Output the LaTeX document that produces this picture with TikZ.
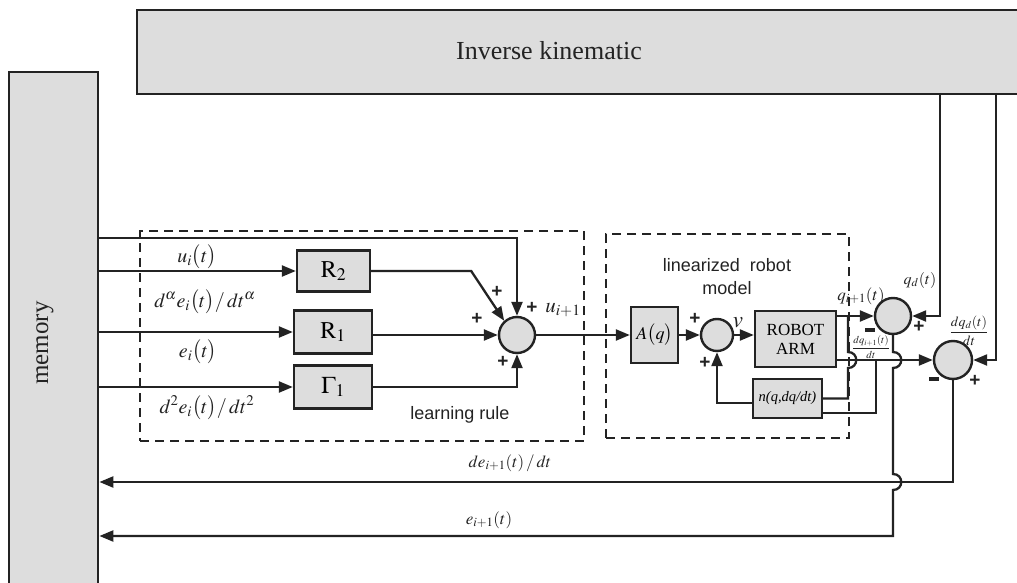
\documentclass[tikz,border=0pt]{standalone}
\usepackage{mathptmx}
\usepackage{fontspec}
\setmainfont{Liberation Serif}
\newfontfamily\arialf{Liberation Sans}
\usetikzlibrary{arrows.meta,calc}
\definecolor{boxgray}{RGB}{221,221,221}
\definecolor{ink}{RGB}{35,35,35}
\begin{document}
\begin{tikzpicture}[x=1pt,y=-1pt,
  line/.style={line width=2.3pt, draw=ink},
  arr/.style={line, -{Triangle[length=14pt,width=11pt]}},
  blk/.style={draw=ink, line width=2.4pt, fill=boxgray, inner sep=0pt},
  sumc/.style={circle, blk},
  dbox/.style={draw=ink, line width=2.2pt, dash pattern=on 9pt off 6pt, inner sep=0pt},
  sgn/.style={font=\arialf\bfseries\fontsize{19}{19}\selectfont, inner sep=0pt, text=ink},
  mns/.style={inner sep=0pt, fill=ink, minimum width=10pt, minimum height=3.5pt},
  lab/.style={inner sep=0pt, font=\fontsize{20}{22}\selectfont, text=ink},
  sans/.style={inner sep=0pt, font=\arialf\fontsize{18}{23}\selectfont, text=ink, align=center},
]
\useasboundingbox (0,0) rectangle (1017,583);
\fill[white] (0,0) rectangle (1017,583);

% big blocks
\node[blk, minimum width=900pt, minimum height=84pt, anchor=north west] (ik) at (136,9) {};
\node[inner sep=0pt, font=\fontsize{26}{26}\selectfont, text=ink] (ikt) at (549,51) {Inverse kinematic};
\node[blk, minimum width=89pt, minimum height=540pt, anchor=north west] (mem) at (8,71) {};
\node[inner sep=0pt, rotate=90, font=\fontsize{25}{25}\selectfont, text=ink] (memt) at (45,343) {memory};

% dashed groups
\node[dbox, minimum width=444pt, minimum height=210pt, anchor=north west] (lr) at (139,230) {};
\node[dbox, minimum width=243pt, minimum height=204pt, anchor=north west] (lrm) at (605,233) {};
\node[sans] (lrt) at (460,415) {learning rule};
\node[sans] (lrmt) at (727,277) {linearized\ \ robot\\model};

% learning rule blocks
\node[blk, minimum width=73pt, minimum height=41pt, font=\fontsize{24}{24}\selectfont] (R2) at (333.5,271) {$\mathrm{R}_2$};
\node[blk, minimum width=78pt, minimum height=43pt, font=\fontsize{24}{24}\selectfont] (R1) at (333,332) {$\mathrm{R}_1$};
\node[blk, minimum width=78pt, minimum height=43pt, font=\fontsize{24}{24}\selectfont] (G1) at (333,387) {$\Gamma_1$};
\node[sumc, minimum size=36pt] (S1) at (517,335) {};

\coordinate (topY) at (0,238);
\draw[arr] (mem.east |- topY) -| (S1.north);
\draw[arr] (mem.east |- R2) -- (R2.west);
\draw[arr] (mem.east |- R1) -- (R1.west);
\draw[arr] (mem.east |- G1) -- (G1.west);
\draw[arr] (R2.east) -- ++(100,0) -- (S1.132);
\draw[arr] (R1.east |- S1) -- (S1.west);
\draw[arr] (G1.east) -| (S1.south);

\node[lab] (l1) at (197,257) {$u_i\bigl(t\bigr)$};
\node[lab] (l2) at (205,302) {$d^{\alpha}e_i\bigl(t\bigr)/\,dt^{\alpha}$};
\node[lab] (l3) at (198,352) {$e_i\bigl(t\bigr)$};
\node[lab] (l4) at (207,408) {$d^{2}e_i\bigl(t\bigr)/\,dt^{2}$};

\node[sgn] (p1) at (497,292) {+};
\node[sgn] (p2) at (532,308) {+};
\node[sgn] (p3) at (477,319) {+};
\node[sgn] (p4) at (503,362) {+};
\node[lab, font=\fontsize{21}{21}\selectfont] (ui1) at (563,310) {$u_{i+1}$};

% robot model
\node[blk, minimum width=47pt, minimum height=56pt, font=\fontsize{18}{18}\selectfont] (Aq) at (654.5,335) {$A\bigl(q\bigr)$};
\node[sumc, minimum size=32pt] (S2) at (717,335) {};
\node[blk, minimum width=81pt, minimum height=56pt, align=center, font=\fontsize{17}{19}\selectfont] (robot) at (795.5,339) {ROBOT\\ARM};
\node[blk, minimum width=69pt, minimum height=39pt, font=\fontsize{14.5}{15}\selectfont] (n) at (787.5,398.5) {\textit{n(q,dq/dt)}};

\draw[arr] (S1.east) -- (Aq.west);
\draw[arr] (Aq.east) -- (S2.west);
\draw[arr] (S2.east) -- (robot.west |- S2);
\draw[arr] ([yshift=-4.5pt]n.west) -| (S2.south);
\node[sgn] (p5) at (695,319) {+};
\node[sgn] (p6) at (705,363) {+};
\node[lab, font=\fontsize{23}{23}\selectfont] (vl) at (738,323) {$v$};

% error sums
\node[sumc, minimum size=36pt] (Sq) at (893,316) {};
\node[sumc, minimum size=38pt] (Sdq) at (953,360) {};
\coordinate (ikA) at (940,93);
\coordinate (ikB) at (996,93);
\draw[arr] (robot.east |- Sq) -- (Sq.west);
\draw[arr] (robot.east |- Sdq) -- (Sdq.west);
\draw[arr] (ikA) |- (Sq.east);
\draw[arr] (ikB) |- (Sdq.east);

\coordinate (tq) at (848,316);
\coordinate (tdq) at (876,360);
\draw[line] (n.east) -| ($(tq)+(0,52)$) .. controls +(11,0) and +(11,0) .. ++(0,-16) -- (tq);
\draw[line] ([yshift=-14.5pt]n.east) -| (tdq);

\coordinate (deY) at (0,482);
\coordinate (eY) at (0,536);
\draw[arr] (Sq.south) -- ($(Sq.south |- Sdq)+(0,-8)$) .. controls +(11,0) and +(11,0) .. ++(0,16)
  -- ($(Sq.south |- deY)+(0,-8)$) .. controls +(11,0) and +(11,0) .. ++(0,16) |- (mem.east |- eY);
\draw[arr] (Sdq.south) |- (mem.east |- deY);

\node[lab, font=\fontsize{17}{19}\selectfont] (lq) at (861,296) {$q_{i+1}(t)$};
\node[lab, font=\fontsize{16}{18}\selectfont] (lqd) at (920,280) {$q_d(t)$};
\node[lab, font=\fontsize{14}{16}\selectfont] (ldqd) at (969,331) {$\displaystyle\frac{dq_d(t)}{dt}$};
\node[lab, font=\fontsize{10.5}{12}\selectfont] (ldq) at (871,347) {$\displaystyle\frac{dq_{i+1}(t)}{dt}$};
\node[mns] (m1) at (870,330) {};
\node[sgn] (p7) at (919,327) {+};
\node[mns] (m2) at (934,379) {};
\node[sgn] (p8) at (975,381) {+};

\node[lab, font=\fontsize{17}{19}\selectfont] (lde) at (510,463) {$de_{i+1}(t)\,/\,dt$};
\node[lab, font=\fontsize{17}{19}\selectfont] (le) at (489,520) {$e_{i+1}(t)$};
\end{tikzpicture}
\end{document}
